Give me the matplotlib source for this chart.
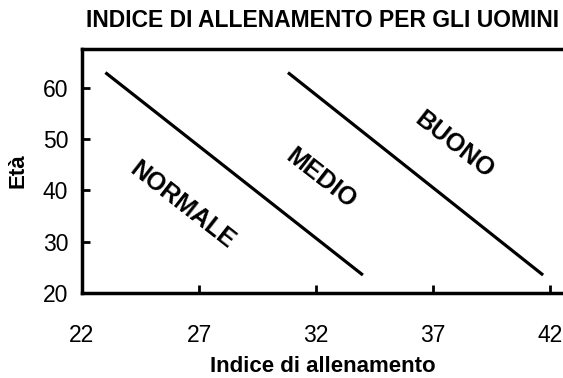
import matplotlib
matplotlib.use("Agg")
import matplotlib.pyplot as plt

plt.rcParams['font.family'] = ['Liberation Sans', 'DejaVu Sans']

# Data
line1_x = [23.0, 34.0]
line1_y = [63.0, 23.5]
line2_x = [30.8, 41.7]
line2_y = [63.0, 23.5]
zone_labels = ["NORMALE", "MEDIO", "BUONO"]
zone_x = [26.3, 32.2, 37.9]
zone_y = [37.2, 42.4, 48.9]
xticks = [22, 27, 32, 37, 42]
yticks = [20, 30, 40, 50, 60]

fig = plt.figure(figsize=(5.63, 3.78), dpi=100)
ax = fig.add_axes([82/563, 1-293/378, 1-82/563, (293-49)/378])

ax.plot(line1_x, line1_y, color='black', lw=2.3, solid_capstyle='butt')
ax.plot(line2_x, line2_y, color='black', lw=2.3, solid_capstyle='butt')

for lab, x, y in zip(zone_labels, zone_x, zone_y):
    ax.text(x, y, lab, rotation=-38, ha='center', va='center',
            fontsize=18, fontweight='bold', rotation_mode='anchor')

ax.set_xlim(22, 42.55)
ax.set_ylim(20, 67.6)
ax.set_xticks(xticks)
ax.set_yticks(yticks)
ax.tick_params(axis='x', direction='in', length=6, width=2, pad=22, labelsize=16.5)
ax.tick_params(axis='y', direction='in', length=6, width=2, pad=10, labelsize=16.5)
ax.spines['right'].set_visible(False)
for s in ['left', 'bottom', 'top']:
    ax.spines[s].set_linewidth(2.5)

ax.set_xlabel("Indice di allenamento", fontsize=16, fontweight='bold', labelpad=7)
ax.set_ylabel("Età", fontsize=16, fontweight='bold', labelpad=10)
ax.set_title("INDICE DI ALLENAMENTO PER GLI UOMINI", fontsize=16.5, fontweight='bold', pad=16)

fig.savefig("out.png", dpi=100)
